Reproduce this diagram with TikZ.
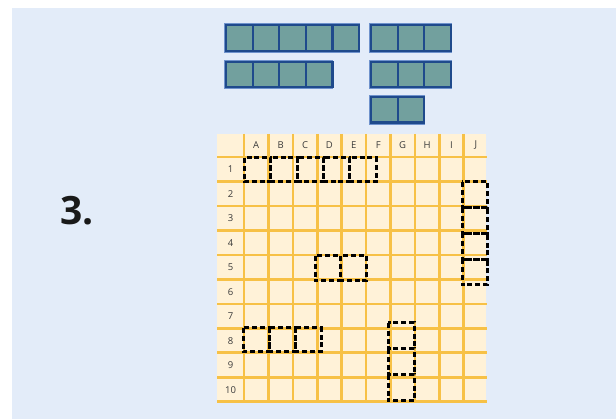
\documentclass[tikz,border=0pt]{standalone}
\usepackage{fontspec}
\setmainfont{Open Sans}
\definecolor{bgblue}{HTML}{E3ECF9}
\definecolor{cellcream}{HTML}{FFF2D8}
\definecolor{lineorange}{HTML}{F7C146}
\definecolor{fleetteal}{HTML}{72A09E}
\definecolor{fleetedge}{HTML}{1F4A8C}
\definecolor{fleethalo}{HTML}{6F92CC}
\definecolor{labelgray}{HTML}{3A3A3A}

\begin{document}
\begin{tikzpicture}[x=1pt, y=-1pt,
  fleetsq/.style={fill=fleetteal, draw=fleetedge, line width=2.2pt},
  fleethalo/.style={draw=fleethalo, line width=3pt},
  shipbox/.style={draw=black, line width=3pt, dash pattern=on 5pt off 2.8pt},
  gridline/.style={lineorange, line width=2.6pt},
  lbl/.style={font=\fontsize{9.5}{11}\selectfont, text=labelgray, inner sep=0pt}]

  % --- Hintergrund ---
  \useasboundingbox (0,0) rectangle (616,419);
  \fill[bgblue] (12,8) rectangle (616,419);

  % --- Flotte oben ---
  \foreach \x/\y/\n in {225/24.3/5, 370/24.3/3, 225/60.7/4, 370/60.7/3, 370/96/2} {
    \draw[fleethalo] (\x+0.5,\y+0.5) rectangle +({26.6*\n},26.6);
    \foreach \k in {1,...,\n}
      \draw[fleetsq] ({\x+1+26.6*(\k-1)},{\y+1}) rectangle +(26.6,25.6);
  }

  % --- Nummer ---
  \node[font=\fontsize{39}{40}\selectfont\bfseries, text=black!90, inner sep=0pt]
    (nr) at (77,211) {3.};

  % --- Spielfeld ---
  \fill[cellcream] (217,134) rectangle (486,401.7);
  \foreach \k in {0,...,9}
    \draw[gridline] ({244+24.4*\k},134) -- ++(0,267.7);     % Spalten
  \foreach \k in {0,...,10}
    \draw[gridline] (217,{157+24.47*\k}) -- (487,{157+24.47*\k}); % Zeilen

  % --- Beschriftung ---
  \foreach \c [count=\k from 0] in {A,B,C,D,E,F,G,H,I,J}
    \node[lbl] (col\c) at ({256.2+24.4*\k},145.5) {\c};
  \foreach \r in {1,...,10}
    \node[lbl] (row\r) at (230.5,{145+24.47*\r}) {\r};

  % --- Schiffe ---
  \foreach \k in {0,...,4}
    \draw[shipbox] ({244.5+26.3*\k},158) rectangle +(26.3,24);   % Zeile 1
  \foreach \k in {0,...,3}
    \draw[shipbox] (462,{182+25.75*\k}) rectangle +(25,25.75);   % Spalte J
  \foreach \k in {0,1}
    \draw[shipbox] ({315+25.5*\k},256) rectangle +(25.5,25);     % Zeile 5
  \foreach \k in {0,1,2}
    \draw[shipbox] ({243+26*\k},328) rectangle +(26,24);         % Zeile 8
  \foreach \k in {0,1,2}
    \draw[shipbox] (388,{323+26*\k}) rectangle +(26,26);         % Spalte G

\end{tikzpicture}
\end{document}
